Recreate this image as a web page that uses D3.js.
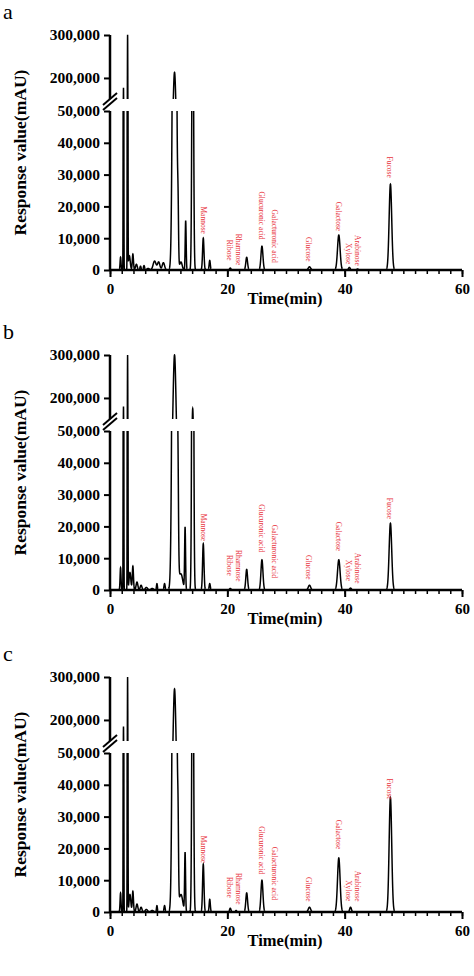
<!DOCTYPE html><html><head><meta charset="utf-8">
<script src="https://cdn.jsdelivr.net/npm/d3@7"></script>
<style>body{margin:0;background:#fff}svg{display:block}</style></head><body>
<svg id="c" width="474" height="976"></svg>
<script>
const panelNames = ["a","b","c"];
const xTicks = [0,20,40,60];
const lowerTicks = [0,10000,20000,30000,40000,50000];
const upperTicks = [200000,300000];
const sugarNames = ["Mannose","Ribose","Rhamnose","Glucuronic acid","Galacturonic acid","Glucose","Galactose","Xylose","Arabinose","Fucose"];
const sugarTimes = [16.0,20.4,22.0,25.9,28.2,34.0,39.0,40.7,42.2,47.8];
const labelTopA = [20000,9500,11400,24700,19000,10400,21500,8500,11000,35700];
const labelTopB = [24000,11000,12600,27000,20500,11000,21500,9500,11700,29000];
const labelTopC = [24000,11000,12300,27000,20500,11000,29000,10000,13000,42000];
// peaks: [time(min), height(mAU), sigma(min)]
const peaksA = [[1.8,4000,0.08],[2.3,177000,0.04],[3.0,300000,0.04],[3.3,4500,0.15],[3.9,5000,0.1],[4.5,1800,0.15],[5.2,1200,0.1],[5.8,1400,0.1],[6.5,500,0.2],[7.6,2800,0.25],[8.3,2500,0.2],[9.1,2300,0.2],[11.0,213000,0.25],[11.6,14000,0.08],[12.1,2500,0.2],[12.9,15500,0.08],[14.1,110000,0.13],[15.9,10000,0.12],[17.0,3000,0.1],[20.5,600,0.12],[23.3,4000,0.15],[25.9,7500,0.17],[34.0,1000,0.2],[39.0,11000,0.22],[40.8,800,0.15],[42.2,300,0.15],[47.8,27000,0.22]];
const peaksB = [[1.8,7000,0.08],[2.3,180000,0.04],[3.0,300000,0.04],[3.4,5500,0.15],[3.9,7500,0.1],[4.6,2500,0.15],[5.3,1500,0.15],[6.2,800,0.2],[7.2,500,0.2],[8.0,2000,0.08],[9.3,2000,0.1],[11.0,300000,0.27],[11.6,18000,0.08],[12.1,5000,0.3],[12.8,19500,0.08],[14.1,175000,0.13],[15.9,14500,0.12],[17.0,2000,0.1],[20.5,500,0.12],[23.3,6500,0.15],[25.9,9500,0.17],[34.0,1500,0.2],[39.0,9500,0.22],[41.0,600,0.15],[47.8,21000,0.22]];
const peaksC = [[1.8,6000,0.08],[2.3,185000,0.04],[3.0,300000,0.04],[3.4,5500,0.15],[3.9,6500,0.1],[4.6,2500,0.15],[5.3,1500,0.15],[6.2,800,0.2],[7.2,500,0.2],[8.0,2000,0.08],[9.3,2000,0.1],[11.0,272000,0.25],[11.6,19500,0.08],[12.1,5500,0.3],[12.8,18500,0.08],[14.1,120000,0.13],[15.9,15000,0.12],[17.0,4000,0.1],[20.5,1200,0.12],[21.5,500,0.1],[23.3,6000,0.15],[25.9,10000,0.17],[34.0,1500,0.2],[39.0,17000,0.22],[41.0,1500,0.15],[47.8,36000,0.22]];
const panels = [
 {name:"a",peaks:peaksA,labels:labelTopA,top:35},
 {name:"b",peaks:peaksB,labels:labelTopB,top:355},
 {name:"c",peaks:peaksC,labels:labelTopC,top:677}];

const svg = d3.select("#c");
const font = "'Liberation Serif','Times New Roman',serif";
const x = d3.scaleLinear().domain([0,60]).range([110,462]);
const ts = d3.range(0,60.001,0.01);
panels.forEach((p,i)=>{
  const T=p.top, H=235;
  const yL = d3.scaleLinear().domain([0,50000]).range([T+H,T+76]);
  const yU = d3.scaleLinear().domain([151000,300000]).range([T+64,T]);
  const g = svg.append("g");
  const data = ts.map(t=>[t, t<1.4?0:d3.sum(p.peaks,q=>q[1]*Math.exp(-0.5*((t-q[0])/q[2])**2))]);
  g.append("clipPath").attr("id","cl"+i).append("rect").attr("x",100).attr("y",T+76).attr("width",370).attr("height",H-76+2);
  g.append("clipPath").attr("id","cu"+i).append("rect").attr("x",100).attr("y",T-1).attr("width",370).attr("height",65);
  g.append("path").datum(data).attr("clip-path",`url(#cl${i})`).attr("fill","none").attr("stroke","#000").attr("stroke-width",1.5)
    .attr("d",d3.line().x(d=>x(d[0])).y(d=>yL(Math.min(d[1],60000))));
  g.append("path").datum(data).attr("clip-path",`url(#cu${i})`).attr("fill","none").attr("stroke","#000").attr("stroke-width",1.5)
    .attr("d",d3.line().x(d=>x(d[0])).y(d=>yU(Math.max(Math.min(d[1],310000),140000))));
  const ax = g.append("g").attr("transform",`translate(0,${T+H})`).call(d3.axisBottom(x).tickValues(xTicks).tickSize(7).tickFormat(d3.format("d")));
  g.append("g").attr("transform",`translate(0,${T+H})`).call(d3.axisBottom(x).tickValues(d3.range(0,61,2)).tickSize(4).tickFormat(""))
    .call(s=>s.select(".domain").remove()).selectAll("line").attr("stroke-width",1.5);
  ax.select(".domain").attr("stroke-width",2.5).attr("d",`M110,0H462`);
  ax.selectAll("line").attr("stroke-width",2);
  ax.selectAll("text").attr("font-family",font).attr("font-weight","bold").attr("font-size",15).attr("dy","0.95em");
  const al = g.append("g").attr("transform","translate(110,0)").call(d3.axisLeft(yL).tickValues(lowerTicks).tickSize(6).tickFormat(d3.format(",")));
  al.select(".domain").attr("stroke-width",2.5).attr("d",`M0,${T+H}V${T+76}`);
  const au = g.append("g").attr("transform","translate(110,0)").call(d3.axisLeft(yU).tickValues(upperTicks).tickSize(6).tickFormat(d3.format(",")));
  au.select(".domain").attr("stroke-width",2.5).attr("d",`M0,${T+64}V${T}`);
  [al,au].forEach(a=>{a.selectAll("line").attr("stroke-width",2);
    a.selectAll("text").attr("font-family",font).attr("font-weight","bold").attr("font-size",15.5).attr("dx","-1px");});
  [0,5].forEach(o=>g.append("line").attr("x1",103).attr("x2",117).attr("y1",T+75-o).attr("y2",T+63-o).attr("stroke","#000").attr("stroke-width",2));
  g.append("text").attr("x",285).attr("y",T+H+34).attr("text-anchor","middle").attr("font-family",font).attr("font-weight","bold").attr("font-size",16.5).text("Time(min)");
  g.append("text").attr("transform",`translate(26,${T+H/2}) rotate(-90)`).attr("text-anchor","middle").attr("font-family",font).attr("font-weight","bold").attr("font-size",17.5).text("Response value(mAU)");
  g.append("text").attr("x",3).attr("y",T-16).attr("font-family",font).attr("font-size",22).text(p.name);
  sugarNames.forEach((n,k)=>{
    g.append("text").attr("transform",`translate(${x(sugarTimes[k])-3},${yL(p.labels[k])}) rotate(90)`)
      .attr("font-family",font).attr("font-size",7.5).attr("fill","#e8323c").text(n);
  });
});
</script></body></html>
